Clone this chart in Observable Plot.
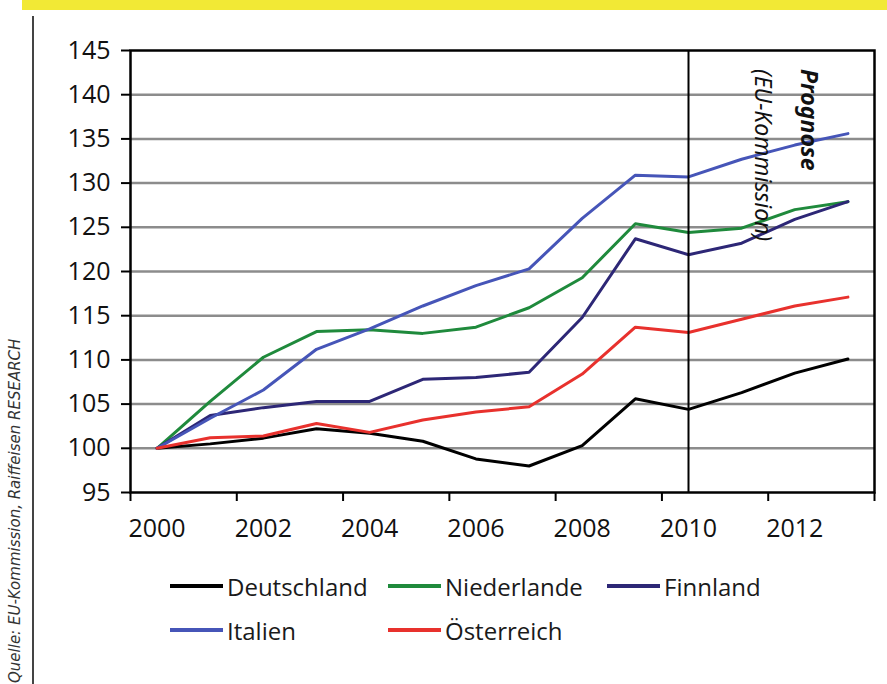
<!DOCTYPE html>
<html>
<head>
<meta charset="utf-8">
<script src="https://cdn.jsdelivr.net/npm/d3@7"></script>
<script src="https://cdn.jsdelivr.net/npm/@observablehq/plot@0.6"></script>
<style>
  html, body { margin: 0; padding: 0; background: #ffffff; }
  #page { position: relative; width: 887px; height: 684px; overflow: hidden; background: #fff; font-family: "Open Sans", sans-serif; }
  #topbar { position: absolute; left: 22px; top: 0; width: 865px; height: 10px; background: #f2e935; }
  #sideline { position: absolute; left: 32px; top: 16px; width: 2px; height: 668px; background: #444; }
  #source { position: absolute; left: 6px; top: 683px; transform: rotate(-90deg); transform-origin: left top; white-space: nowrap;
            font-family: "DejaVu Sans", sans-serif; font-style: italic; font-size: 15px; line-height: 19px; color: #333; }
  #chart { position: absolute; left: 0; top: 0; }
  #legend { position: absolute; left: 170px; top: 570px; display: grid; grid-template-columns: 218px 219px auto; row-gap: 12px; }
  .item { display: flex; align-items: center; height: 32px; font-size: 24px; color: #1a1a1a; }
  .sw { width: 53px; height: 4px; margin-right: 4px; }
</style>
</head>
<body>
<div id="page">
  <div id="topbar"></div>
  <div id="sideline"></div>
  <div id="source"></div>
  <div id="chart"></div>
  <div id="legend"></div>
</div>
<script>
const years = [2000, 2001, 2002, 2003, 2004, 2005, 2006, 2007, 2008, 2009, 2010, 2011, 2012, 2013];
const deutschland = [100, 100.5, 101.15, 102.2, 101.7, 100.8, 98.8, 98.0, 100.3, 105.6, 104.4, 106.3, 108.5, 110.1];
const niederlande = [100, 105.3, 110.3, 113.2, 113.4, 113.0, 113.7, 115.9, 119.3, 125.4, 124.4, 124.9, 127.0, 127.9];
const finnland = [100, 103.7, 104.6, 105.3, 105.3, 107.8, 108.0, 108.6, 114.8, 123.7, 121.9, 123.2, 125.9, 127.9];
const italien = [100, 103.4, 106.6, 111.2, 113.5, 116.1, 118.4, 120.3, 126.0, 130.9, 130.7, 132.7, 134.3, 135.6];
const oesterreich = [100, 101.2, 101.4, 102.8, 101.8, 103.2, 104.1, 104.7, 108.4, 113.7, 113.1, 114.6, 116.1, 117.1];

const seriesNames = ["Deutschland", "Niederlande", "Finnland", "Italien", "Österreich"];
const seriesColors = ["#000000", "#1f8a3c", "#2d2776", "#4655b8", "#e8312d"];
const seriesValues = [deutschland, niederlande, finnland, italien, oesterreich];

const yTicks = [95, 100, 105, 110, 115, 120, 125, 130, 135, 140, 145];
const xLabels = [2000, 2002, 2004, 2006, 2008, 2010, 2012];
const forecastYear = 2010;
const forecastTitle = "Prognose";
const forecastSub = "(EU-Kommission)";
const sourceText = "Quelle: EU-Kommission, Raiffeisen RESEARCH";

const data = seriesNames.flatMap((name, s) => years.map((year, i) => ({ name, year, value: seriesValues[s][i] })));
const xBoundaries = [...xLabels.map(y => y - 0.5), years[years.length - 1] + 0.5];

const chart = Plot.plot({
  width: 887,
  height: 560,
  marginLeft: 130,
  marginRight: 13,
  marginTop: 50,
  marginBottom: 68,
  style: { fontFamily: "'Open Sans', sans-serif", fontSize: "25px", background: "transparent", color: "#111" },
  x: { domain: [years[0] - 0.5, years[years.length - 1] + 0.5], axis: null },
  y: { domain: [yTicks[0], yTicks[yTicks.length - 1]], axis: null },
  color: { domain: seriesNames, range: seriesColors },
  marks: [
    Plot.gridY(yTicks.slice(1, -1), { stroke: "#8c8c8c", strokeOpacity: 1, strokeWidth: 2.5 }),
    Plot.axisY(yTicks, { tickSize: 9, tickPadding: 11, stroke: "#000", strokeWidth: 2, fontSize: 25, label: null, tickFormat: d => String(d) }),
    Plot.axisX(xBoundaries, { tickSize: 9, stroke: "#000", strokeWidth: 2, tickFormat: () => "", label: null }),
    Plot.axisX(xLabels, { tickSize: 0, tickPadding: 27, fontSize: 25, label: null, tickFormat: d => String(d) }),
    Plot.line(data, { x: "year", y: "value", z: "name", stroke: "name", strokeWidth: 3, strokeLinejoin: "round" }),
    Plot.ruleX([forecastYear], { stroke: "#000", strokeWidth: 2 }),
    Plot.frame({ stroke: "#000", strokeWidth: 2.5 }),
    Plot.text([forecastTitle], { x: () => forecastYear + 2.25, y: () => 142.9, text: d => d, rotate: 90, textAnchor: "start", lineAnchor: "middle",
      fontSize: 23, fontWeight: "bold", fontStyle: "italic", fontFamily: "'Noto Sans', sans-serif", fill: "#111" }),
    Plot.text([forecastSub], { x: () => forecastYear + 1.39, y: () => 142.9, text: d => d, rotate: 90, textAnchor: "start", lineAnchor: "middle",
      fontSize: 23, fontStyle: "italic", fontFamily: "'Noto Sans', sans-serif", fill: "#111" })
  ]
});
document.getElementById("chart").appendChild(chart);

document.getElementById("source").textContent = sourceText;

const legend = document.getElementById("legend");
seriesNames.forEach((name, i) => {
  const item = document.createElement("div");
  item.className = "item";
  const sw = document.createElement("span");
  sw.className = "sw";
  sw.style.background = seriesColors[i];
  const label = document.createElement("span");
  label.textContent = name;
  item.appendChild(sw);
  item.appendChild(label);
  legend.appendChild(item);
});
</script>
</body>
</html>
